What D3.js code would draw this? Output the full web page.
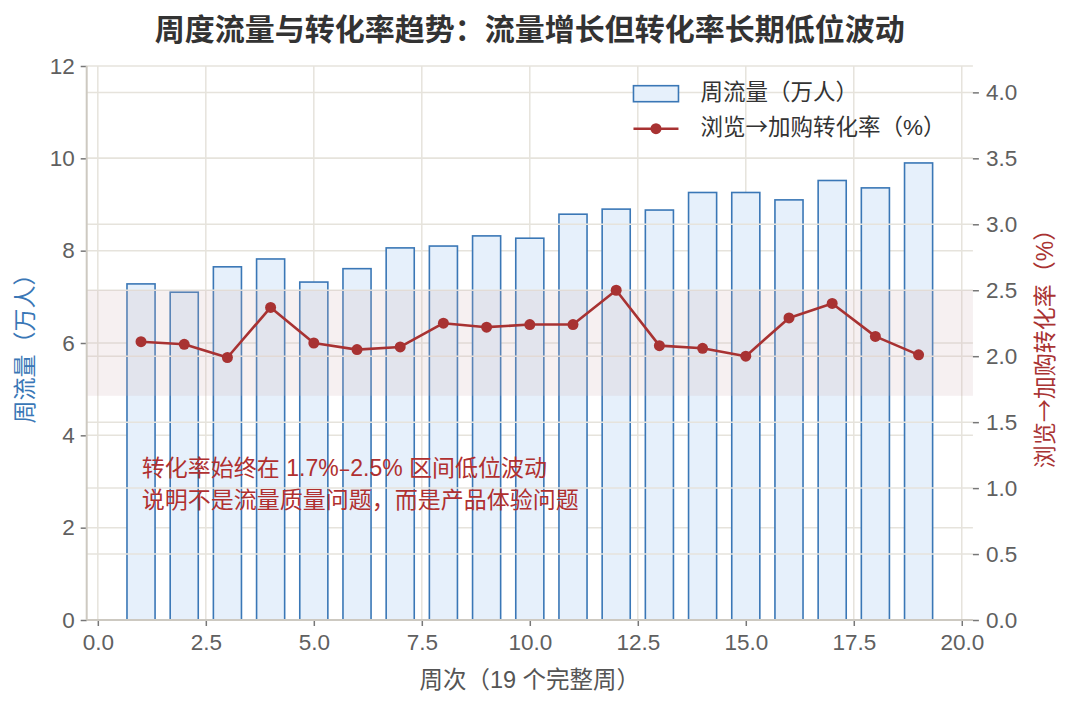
<!DOCTYPE html>
<html>
<head>
<meta charset="utf-8">
<script src="https://cdn.jsdelivr.net/npm/d3@7"></script>
<style>
  body { margin: 0; background: #fff; }
  svg { display: block; }
  text { font-family: "Liberation Sans", "Noto Sans CJK SC", sans-serif; }
  .sym { font-family: "Noto Sans CJK SC", sans-serif; }
  .dash { font-family: "DejaVu Sans", sans-serif; }
</style>
</head>
<body>
<div id="chart"></div>
<script>
// 周次与数据
const weeks = [1, 2, 3, 4, 5, 6, 7, 8, 9, 10, 11, 12, 13, 14, 15, 16, 17, 18, 19];
const traffic = [7.28, 7.10, 7.65, 7.82, 7.32, 7.61, 8.06, 8.10, 8.32, 8.27, 8.79, 8.90, 8.88, 9.26, 9.26, 9.10, 9.52, 9.36, 9.90];
const convRate = [2.11, 2.09, 1.99, 2.37, 2.10, 2.05, 2.07, 2.25, 2.22, 2.24, 2.24, 2.50, 2.08, 2.06, 2.00, 2.29, 2.40, 2.15, 2.01];
const band = [1.7, 2.5];
const xTicks = [0, 2.5, 5, 7.5, 10, 12.5, 15, 17.5, 20];
const yLeftTicks = [0, 2, 4, 6, 8, 10, 12];
const yRightTicks = [0, 0.5, 1, 1.5, 2, 2.5, 3, 3.5, 4];

const titleText = "周度流量与转化率趋势：流量增长但转化率长期低位波动";
const xLabel = "周次（19 个完整周）";
const yLeftLabel = "周流量（万人）";
const yRightLabel = "浏览→加购转化率（%）";
const noteLines = ["转化率始终在 1.7%–2.5% 区间低位波动", "说明不是流量质量问题，而是产品体验问题"];

const width = 1071, height = 708;
const margin = {left: 86.7, right: 98.1, top: 66, bottom: 88};
const w = width - margin.left - margin.right;
const h = height - margin.top - margin.bottom;

const barWidth = 0.65;
const blue = "#3a77b6", red = "#a83232", grid = "#e6e3dc", spine = "#cdc9c1";

// 箭头用 CJK 字体，破折号用 DejaVu（更宽）
function richText(sel, str) {
    str.split(/([–→])/).filter(s => s.length).forEach(s => {
        const t = sel.append("tspan").text(s);
        if (s === "→") t.attr("class", "sym");
        if (s === "–") t.attr("class", "dash");
    });
}

const svg = d3.select("#chart").append("svg")
    .attr("width", width)
    .attr("height", height);

const g = svg.append("g").attr("transform", `translate(${margin.left},${margin.top})`);

const x = d3.scaleLinear().domain([-0.2575, 20.2575]).range([0, w]);
const yL = d3.scaleLinear().domain([0, 12]).range([h, 0]);
const yR = d3.scaleLinear().domain([0, 4.2]).range([h, 0]);

// 网格线
g.append("g").selectAll("line").data(xTicks).join("line")
    .attr("x1", d => x(d)).attr("x2", d => x(d))
    .attr("y1", 0).attr("y2", h)
    .attr("stroke", grid).attr("stroke-width", 1.5);
g.append("g").selectAll("line").data(yLeftTicks).join("line")
    .attr("x1", 0).attr("x2", w)
    .attr("y1", d => yL(d)).attr("y2", d => yL(d))
    .attr("stroke", grid).attr("stroke-width", 1.5);

// 柱：周流量
g.append("g").selectAll("rect").data(weeks).join("rect")
    .attr("x", (d) => x(d - barWidth / 2))
    .attr("width", x(barWidth) - x(0))
    .attr("y", (d, i) => yL(traffic[i]))
    .attr("height", (d, i) => yL(0) - yL(traffic[i]))
    .attr("fill", "#e6f0fb")
    .attr("stroke", blue)
    .attr("stroke-width", 1.6);

// 右轴网格
g.append("g").selectAll("line").data(yRightTicks).join("line")
    .attr("x1", 0).attr("x2", w)
    .attr("y1", d => yR(d)).attr("y2", d => yR(d))
    .attr("stroke", grid).attr("stroke-width", 1.5);

// 区间带
g.append("rect")
    .attr("x", 0).attr("width", w)
    .attr("y", yR(band[1])).attr("height", yR(band[0]) - yR(band[1]))
    .attr("fill", "#d4b6b8").attr("fill-opacity", 0.2);

// 折线：转化率
const line = d3.line().x(d => x(d[0])).y(d => yR(d[1]));
g.append("path")
    .datum(weeks.map((d, i) => [d, convRate[i]]))
    .attr("d", line)
    .attr("fill", "none")
    .attr("stroke", red)
    .attr("stroke-width", 2.6)
    .attr("stroke-linejoin", "round");
g.append("g").selectAll("circle").data(weeks).join("circle")
    .attr("cx", d => x(d))
    .attr("cy", (d, i) => yR(convRate[i]))
    .attr("r", 5.5)
    .attr("fill", red);

// 坐标轴
const axisStyle = (sel) => {
    sel.select(".domain").remove();
    sel.selectAll(".tick line").attr("stroke", "#777").attr("stroke-width", 1.5);
    sel.selectAll(".tick text").attr("fill", "#606060").style("font-size", "22.5px");
};

g.append("g")
    .attr("transform", `translate(0,${h})`)
    .call(d3.axisBottom(x).tickValues(xTicks).tickFormat(d3.format(".1f")).tickSize(6).tickPadding(8))
    .call(axisStyle);

g.append("g")
    .call(d3.axisLeft(yL).tickValues(yLeftTicks).tickFormat(d3.format("d")).tickSize(6).tickPadding(6))
    .call(axisStyle);

g.append("g")
    .attr("transform", `translate(${w},0)`)
    .call(d3.axisRight(yR).tickValues(yRightTicks).tickFormat(d3.format(".1f")).tickSize(6).tickPadding(7))
    .call(axisStyle);

// 轴线
g.append("line").attr("x1", 0).attr("x2", 0).attr("y1", 0).attr("y2", h)
    .attr("stroke", spine).attr("stroke-width", 2);
g.append("line").attr("x1", 0).attr("x2", w).attr("y1", h).attr("y2", h)
    .attr("stroke", spine).attr("stroke-width", 2);

// 注释
g.append("g").selectAll("text").data(noteLines).join("text")
    .attr("x", x(1.02))
    .attr("y", (d, i) => yL(3.25) + i * 32)
    .attr("dominant-baseline", "middle")
    .attr("fill", "#b03030")
    .style("font-size", "23px")
    .each(function (d) { richText(d3.select(this), d); });

// 图例
const lg = g.append("g").attr("transform", `translate(${x(12.4)},${yR(3.99)})`);
lg.append("rect").attr("x", 0).attr("y", -8).attr("width", 45).attr("height", 16)
    .attr("fill", "#e6f0fb").attr("stroke", blue).attr("stroke-width", 1.6);
lg.append("text").attr("x", 67).attr("y", 0).attr("dominant-baseline", "middle")
    .attr("fill", "#333").style("font-size", "22.5px").text(yLeftLabel);
lg.append("line").attr("x1", 0).attr("x2", 45).attr("y1", 35).attr("y2", 35)
    .attr("stroke", red).attr("stroke-width", 2.6);
lg.append("circle").attr("cx", 22.5).attr("cy", 35).attr("r", 5.5).attr("fill", red);
lg.append("text").attr("x", 67).attr("y", 35).attr("dominant-baseline", "middle")
    .attr("fill", "#333").style("font-size", "22.5px")
    .call(richText, yRightLabel);

// 标题与轴标签
svg.append("text")
    .attr("x", margin.left + w / 2).attr("y", 32)
    .attr("text-anchor", "middle").attr("dominant-baseline", "middle")
    .attr("fill", "#333").style("font-size", "30px").style("font-weight", "bold")
    .text(titleText);

svg.append("text")
    .attr("x", margin.left + w / 2).attr("y", 682)
    .attr("text-anchor", "middle").attr("dominant-baseline", "middle")
    .attr("fill", "#555").style("font-size", "23.5px")
    .text(xLabel);

svg.append("text")
    .attr("transform", `translate(27,${margin.top + h / 2}) rotate(-90)`)
    .attr("text-anchor", "middle").attr("dominant-baseline", "middle")
    .attr("fill", blue).style("font-size", "23px")
    .text(yLeftLabel);

svg.append("text")
    .attr("transform", `translate(1047,${margin.top + h / 2}) rotate(-90)`)
    .attr("text-anchor", "middle").attr("dominant-baseline", "middle")
    .attr("fill", red).style("font-size", "23px")
    .call(richText, yRightLabel);
</script>
</body>
</html>
